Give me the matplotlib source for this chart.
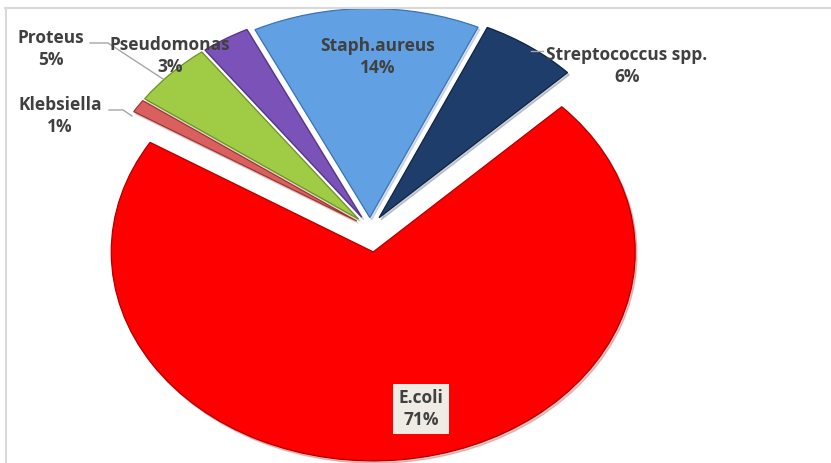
import numpy as np
import matplotlib.pyplot as plt

# organisms isolated and their share of cases (%)
organisms = ["E.coli", "Klebsiella", "Proteus", "Pseudomonas", "Staph.aureus", "Streptococcus spp."]
shares = [71, 1, 5, 3, 14, 6]

colors = ["#FF0000", "#D9605E", "#9FCB45", "#7B52B8", "#62A0E4", "#1F3D6B"]
edges = ["#B00000", "#9C3533", "#6E9226", "#533384", "#3B73B5", "#0E2444"]
explode = [0.115, 0.06, 0.06, 0.06, 0.05, 0.06]

W, H = 831, 463
fig = plt.figure(figsize=(W / 100, H / 100), dpi=100)
fig.patch.set_facecolor("white")
ax = fig.add_axes([0, 0, 1, 1])

wedges, _ = ax.pie(shares, colors=colors, explode=explode, startangle=44,
                   counterclock=False, radius=1.0,
                   wedgeprops=dict(linewidth=0.9),
                   shadow=dict(ox=0.005, oy=-0.008, shade=0.3, alpha=0.22))
for w, ec in zip(wedges, edges):
    w.set_edgecolor(ec)

# squash the pie into an ellipse: centre at pixel (370, 228)
cx, cy, rx, ry = 370, 228, 262, 209
ax.set_aspect("auto")
ax.set_xlim(-cx / rx, (W - cx) / rx)
ax.set_ylim(-(H - cy) / ry, cy / ry)
ax.axis("off")


def px(x, y):
    return x / W, 1 - y / H


lab = dict(fontsize=12.5, fontweight="bold", color="#404040", family="Open Sans",
           ha="center", va="center", linespacing=1.3, transform=fig.transFigure)
pos = {
    "E.coli": (421, 409),
    "Klebsiella": (60, 116),
    "Proteus": (51, 49),
    "Pseudomonas": (170, 56),
    "Staph.aureus": (378, 57),
    "Streptococcus spp.": (627, 66),
}
for name, val in zip(organisms, shares):
    text = f"{name}\n{val}%"
    kw = dict(lab)
    if name == "E.coli":
        kw["bbox"] = dict(boxstyle="square,pad=0.3", fc="#EEECE4", ec="none")
    fig.text(*px(*pos[name]), text, **kw)

# leader lines
lines = [
    [(90, 43), (108, 43), (163, 79)],
    [(109, 110), (123, 110), (132, 116)],
    [(531, 51), (543, 51)],
]
for pts in lines:
    xs, ys = zip(*[px(x, y) for x, y in pts])
    fig.add_artist(plt.Line2D(xs, ys, color="#A6A6A6", lw=1.0, transform=fig.transFigure))

# chart area frame
fig.add_artist(plt.Line2D([5 / W, 1], [1 - 8 / H] * 2, color="#D9D9D9", lw=1.5,
                          transform=fig.transFigure))
fig.add_artist(plt.Line2D([6 / W] * 2, [0, 1 - 8 / H], color="#D9D9D9", lw=1.5,
                          transform=fig.transFigure))

fig.savefig("out.png", dpi=100, facecolor="white")
